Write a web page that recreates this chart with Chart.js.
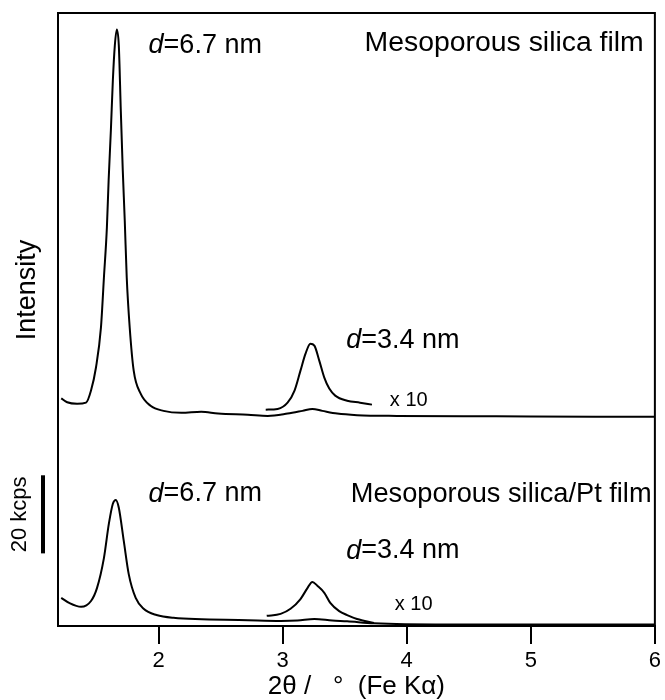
<!DOCTYPE html>
<html>
<head>
<meta charset="utf-8">
<script src="https://cdn.jsdelivr.net/npm/chart.js@4"></script>
<style>
  body { margin: 0; background: #fff; }
  canvas { display: block; }
</style>
</head>
<body>
<canvas id="xrd" width="665" height="700"></canvas>
<script>
// 2theta (deg, Fe Ka) and intensity (kcps, upper trace offset above lower one)
const upperX = [1.216, 1.264, 1.344, 1.416, 1.456, 1.496, 1.536, 1.56, 1.584, 1.598, 1.616, 1.632, 1.648, 1.664, 1.68, 1.696, 1.712, 1.728, 1.744, 1.768, 1.8, 1.856, 1.936, 2.04, 2.184, 2.344, 2.48, 2.72, 2.88, 3.04, 3.16, 3.24, 3.32, 3.44, 3.6, 3.92, 4.72, 5.52, 6.0];
const upperY = [58.3, 57.3, 56.9, 57.2, 60.3, 66.2, 76.4, 89.2, 102.1, 114.1, 126.9, 139.7, 148.7, 152.8, 148.7, 132.1, 116.7, 103.8, 89.2, 76.4, 65.4, 59.5, 56.4, 55.1, 54.6, 54.9, 54.4, 54.1, 53.8, 54.4, 55.1, 55.6, 55.1, 54.4, 54.0, 53.8, 53.7, 53.6, 53.6];
// x10 magnified part of the upper trace
const upperZoomX = [2.864, 2.96, 3.04, 3.096, 3.144, 3.184, 3.224, 3.256, 3.296, 3.336, 3.376, 3.424, 3.52, 3.624, 3.72];
const upperZoomY = [55.4, 55.6, 57.2, 60.3, 65.4, 69.7, 72.3, 71.8, 67.9, 63.6, 60.8, 59.0, 57.7, 57.2, 56.7];

const lowerX = [1.216, 1.28, 1.376, 1.456, 1.504, 1.56, 1.6, 1.632, 1.656, 1.68, 1.72, 1.76, 1.816, 1.88, 1.984, 2.12, 2.72, 2.984, 3.12, 3.256, 3.4, 3.52, 3.736, 4.32, 6.0];
const lowerY = [7.2, 5.9, 4.9, 6.4, 9.7, 17.4, 26.2, 31.3, 32.3, 30.3, 21.8, 13.3, 7.2, 4.4, 2.8, 2.1, 1.5, 1.3, 1.4, 1.8, 1.4, 1.2, 0.7, 0.4, 0.4];
const lowerZoomX = [2.872, 2.984, 3.064, 3.144, 3.2, 3.24, 3.28, 3.336, 3.384, 3.456, 3.52, 3.6, 3.736];
const lowerZoomY = [2.6, 3.1, 4.4, 6.9, 9.7, 11.3, 10.3, 8.5, 5.9, 3.8, 2.8, 1.8, 0.8];

const xTicks = [2, 3, 4, 5, 6];
const scaleBarKcps = 20;

const FONT = '"Liberation Sans", Arial, sans-serif';

function pts(xs, ys) {
  return xs.map((x, i) => ({ x: x, y: ys[i] }));
}

function series(xs, ys) {
  return {
    data: pts(xs, ys),
    borderColor: '#000',
    borderWidth: 2,
    pointRadius: 0,
    fill: false,
    cubicInterpolationMode: 'monotone'
  };
}

// labels placed in data coordinates (2theta, kcps)
const notes = [
  { x: 1.92, y: 148.7, d: '6.7 nm' },
  { x: 3.66, y: 149.2, text: 'Mesoporous silica film', size: 28.4 },
  { x: 3.512, y: 73.1, d: '3.4 nm' },
  { x: 3.864, y: 57.7, text: 'x 10', size: 20 },
  { x: 1.92, y: 33.8, d: '6.7 nm' },
  { x: 3.55, y: 33.8, text: 'Mesoporous silica/Pt film', size: 27.2 },
  { x: 3.512, y: 19.2, d: '3.4 nm' },
  { x: 3.904, y: 5.4, text: 'x 10', size: 20 }
];

const decorPlugin = {
  id: 'decor',
  afterDraw(chart) {
    const ctx = chart.ctx;
    const a = chart.chartArea;
    const xs = chart.scales.x, ys = chart.scales.y;
    ctx.save();
    // frame
    ctx.strokeStyle = '#000';
    ctx.lineWidth = 2;
    ctx.strokeRect(a.left, a.top, a.right - a.left, a.bottom - a.top);

    // notes
    ctx.fillStyle = '#000';
    ctx.textBaseline = 'middle';
    ctx.textAlign = 'left';
    notes.forEach(n => {
      const px = xs.getPixelForValue(n.x);
      const py = ys.getPixelForValue(n.y);
      if (n.d) {
        ctx.font = 'italic 27px ' + FONT;
        ctx.fillText('d', px, py);
        const w = ctx.measureText('d').width;
        ctx.font = '27px ' + FONT;
        ctx.fillText('=' + n.d, px + w, py);
      } else {
        ctx.font = n.size + 'px ' + FONT;
        ctx.fillText(n.text, px, py);
      }
    });

    // 20 kcps scale bar
    const barFrom = 18.6;
    const y0 = ys.getPixelForValue(barFrom);
    const y1 = ys.getPixelForValue(barFrom + scaleBarKcps);
    ctx.lineWidth = 4;
    ctx.beginPath();
    ctx.moveTo(43, y0);
    ctx.lineTo(43, y1);
    ctx.stroke();

    ctx.textAlign = 'center';
    ctx.font = '22px ' + FONT;
    ctx.save();
    ctx.translate(20, (y0 + y1) / 2);
    ctx.rotate(-Math.PI / 2);
    ctx.fillText('20 kcps', 0, 0);
    ctx.restore();

    ctx.font = '27px ' + FONT;
    ctx.save();
    ctx.translate(28, 290);
    ctx.rotate(-Math.PI / 2);
    ctx.fillText('Intensity', 0, 0);
    ctx.restore();
    ctx.restore();
  }
};

new Chart(document.getElementById('xrd').getContext('2d'), {
  type: 'line',
  data: {
    datasets: [
      series(upperX, upperY),
      series(upperZoomX, upperZoomY),
      series(lowerX, lowerY),
      series(lowerZoomX, lowerZoomY)
    ]
  },
  options: {
    responsive: false,
    animation: false,
    layout: { padding: { left: 58, top: 13, right: 5, bottom: 0 } },
    plugins: { legend: { display: false }, tooltip: { enabled: false } },
    scales: {
      x: {
        type: 'linear',
        min: 1.19,
        max: 6,
        afterBuildTicks: axis => { axis.ticks = xTicks.map(v => ({ value: v })); },
        afterFit: axis => { axis.height = 74; },
        grid: { drawOnChartArea: false, tickLength: 18, color: '#000', lineWidth: 2 },
        border: { display: true, color: '#000', width: 2 },
        ticks: { color: '#000', font: { family: FONT, size: 22 }, padding: 4, maxRotation: 0 },
        title: { display: true, text: '2θ /   °  (Fe Kα)', color: '#000', font: { family: FONT, size: 26, lineHeight: 1 }, padding: 0 }
      },
      y: {
        display: false,
        min: 0,
        max: 157
      }
    }
  },
  plugins: [decorPlugin]
});
</script>
</body>
</html>
